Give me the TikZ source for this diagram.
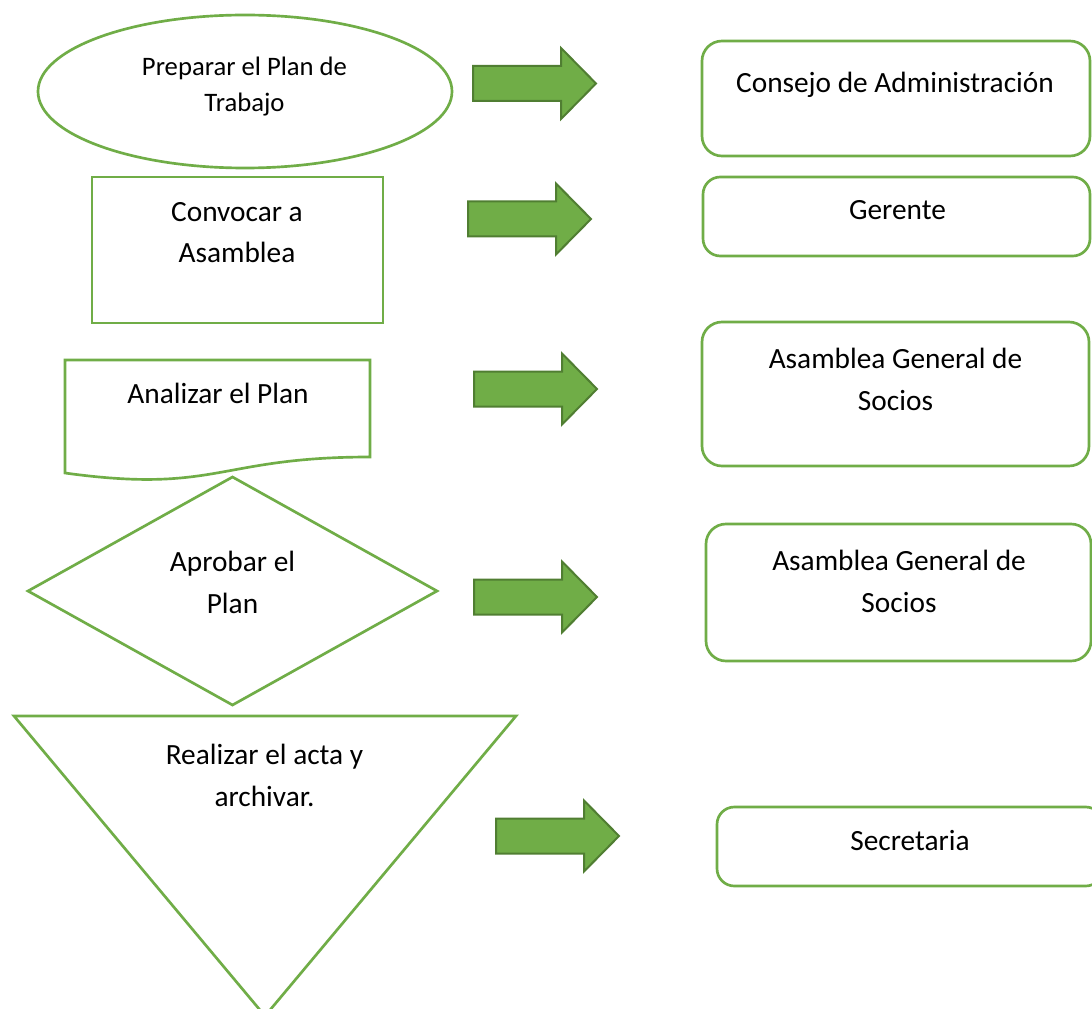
\documentclass[tikz,border=0pt]{standalone}
\usepackage{fontspec}
\setmainfont{Carlito}
\usetikzlibrary{shapes.geometric}
\definecolor{accentgreen}{HTML}{70AD47}
\definecolor{arrowedge}{HTML}{507E32}
\tikzset{
  outline/.style={draw=accentgreen, line width=2pt, fill=white},
  roundbox/.style={outline, rounded corners=15pt},
  smallround/.style={outline, rounded corners=13pt},
  % multi-line labels are placed by the baseline of their last line
  txt/.style={font=\fontsize{22}{31.5}\selectfont, align=center, inner sep=0pt, anchor=base},
  txtsmall/.style={font=\fontsize{20}{27}\selectfont, align=center, inner sep=0pt, anchor=base},
  blockarrow/.pic={
    \draw[fill=accentgreen, draw=arrowedge, line width=1.5pt, line join=miter]
      (0,-17.5) -- (88,-17.5) -- (88,-35.5) -- (123,0) -- (88,35.5) -- (88,17.5) -- (0,17.5) -- cycle;
  }
}
\begin{document}
\begin{tikzpicture}[x=0.75pt, y=-0.75pt]
  \useasboundingbox (0,0) rectangle (1092,1009);
  \fill[white] (0,0) rectangle (1092,1009);
  \clip (0,0) rectangle (1092,1009);

  % process steps (left column)
  \draw[outline] (245,91.5) ellipse [x radius=207, y radius=76.5];
  \draw[outline] (92,177) rectangle (383,323);
  \draw[outline] (65,360) -- (370,360) -- (370,457)
        .. controls (217.5,457) and (217.5,494) .. (65,473) -- cycle;
  \draw[outline] (232.5,477) -- (437,591) -- (232.5,705) -- (28,591) -- cycle;
  \draw[outline, line join=miter] (14,716) -- (516,716) -- (265,1016) -- cycle;

  % responsible parties (right column)
  \draw[roundbox]   (702,41)  rectangle (1090,156);
  \draw[smallround] (703,177) rectangle (1090,256);
  \draw[roundbox]   (702,322) rectangle (1089,466);
  \draw[roundbox]   (706,524) rectangle (1091,661);
  \draw[smallround] (717,807) rectangle (1103,886);

  % block arrows from each step to its responsible party
  \pic at (473,83.5) {blockarrow};
  \pic at (468,219)  {blockarrow};
  \pic at (474,389)  {blockarrow};
  \pic at (474,597)  {blockarrow};
  \pic at (496,836)  {blockarrow};

  % step labels
  \node[txtsmall] (prep) at (244.5,112) {Preparar el Plan de\\Trabajo};
  \node[txt] (conv) at (237,263) {Convocar a\\Asamblea};
  \node[txt] (anal) at (218,403) {Analizar el Plan};
  \node[txt] (apro) at (232.5,613) {Aprobar el\\Plan};
  \node[txt] (acta) at (264.5,806) {Realizar el acta y\\archivar.};

  % responsible labels
  \node[txt] (cons) at (895,93) {Consejo de Administración};
  \node[txt] (gere) at (897.5,220) {Gerente};
  \node[txt] (asg1) at (895.5,410) {Asamblea General de\\Socios};
  \node[txt] (asg2) at (899,612) {Asamblea General de\\Socios};
  \node[txt] (secr) at (910,850) {Secretaria};
\end{tikzpicture}
\end{document}
